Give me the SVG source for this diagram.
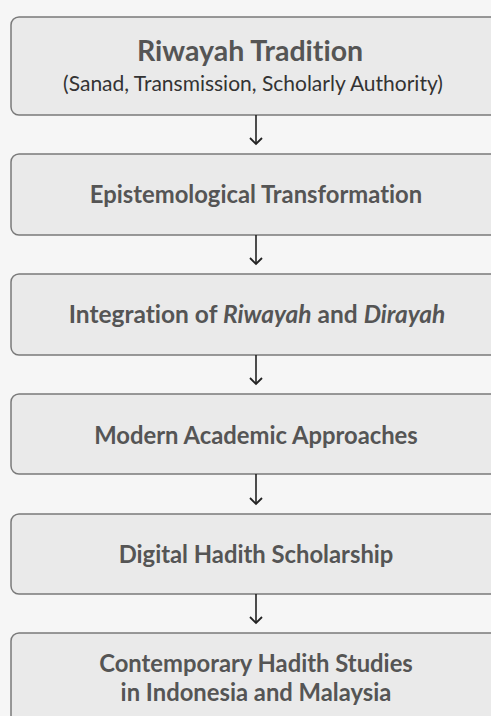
<svg xmlns="http://www.w3.org/2000/svg" width="491" height="716" viewBox="0 0 491 716">
<style>
.box{fill:#eaeaea;stroke:#7a7a7a;stroke-width:1.5}
.t{font-family:Lato,"Open Sans",sans-serif;font-weight:bold;font-size:23.8px;fill:#555;text-anchor:middle;font-variant-ligatures:none}
.s{font-family:Lato,"Open Sans",sans-serif;font-size:21px;fill:#333;text-anchor:middle;font-variant-ligatures:none}
.c line{stroke:#222;stroke-width:1.6}
.c path{fill:none;stroke:#222;stroke-width:1.8;stroke-linejoin:miter}
</style>
<rect width="491" height="716" fill="#f6f6f6"/>
<g id="n1"><rect class="box" x="11" y="17" width="500" height="98" rx="8"/>
<text class="t" x="250" y="61" style="font-size:28.5px">Riwayah Tradition</text>
<text class="s" x="253" y="91">(Sanad, Transmission, Scholarly Authority)</text></g>
<g id="n2"><rect class="box" x="11" y="154" width="500" height="81" rx="8"/>
<text class="t" x="256" y="203">Epistemological Transformation</text></g>
<g id="n3"><rect class="box" x="11" y="274" width="500" height="81" rx="8"/>
<text class="t" x="257" y="323" style="font-size:24.5px">Integration of <tspan font-style="italic">Riwayah</tspan> and <tspan font-style="italic">Dirayah</tspan></text></g>
<g id="n4"><rect class="box" x="11" y="394" width="500" height="80" rx="8"/>
<text class="t" x="256" y="444">Modern Academic Approaches</text></g>
<g id="n5"><rect class="box" x="11" y="514" width="500" height="80" rx="8"/>
<text class="t" x="256" y="563">Digital Hadith Scholarship</text></g>
<g id="n6"><rect class="box" x="11" y="633" width="500" height="120" rx="8"/>
<text class="t" x="256" y="672">Contemporary Hadith Studies</text>
<text class="t" x="256" y="701">in Indonesia and Malaysia</text></g>
<g class="c">
<line x1="256" y1="115" x2="256" y2="144"/><path d="M250,138 L256,144 L262,138"/>
<line x1="256" y1="235" x2="256" y2="264"/><path d="M250,258 L256,264 L262,258"/>
<line x1="256" y1="355" x2="256" y2="384"/><path d="M250,378 L256,384 L262,378"/>
<line x1="256" y1="474" x2="256" y2="504"/><path d="M250,498 L256,504 L262,498"/>
<line x1="256" y1="594" x2="256" y2="623"/><path d="M250,617 L256,623 L262,617"/>
</g>
</svg>
